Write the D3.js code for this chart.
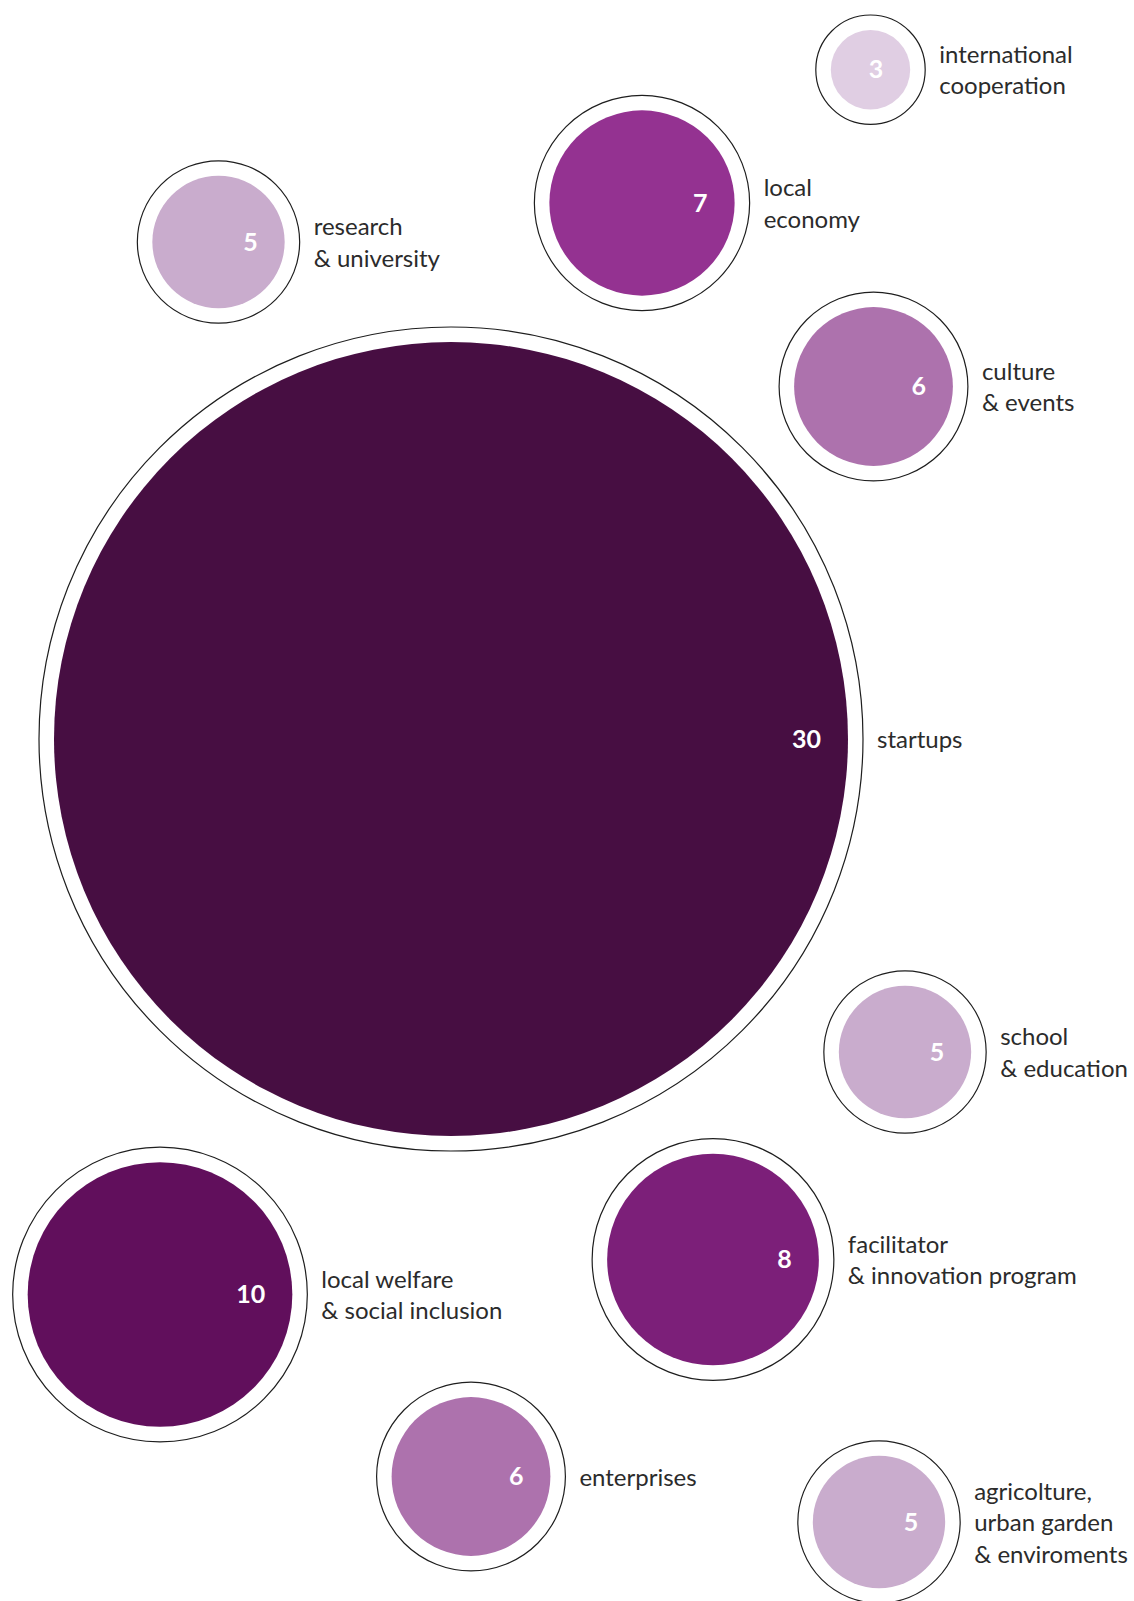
<!DOCTYPE html>
<html>
<head>
<meta charset="utf-8">
<script src="https://cdn.jsdelivr.net/npm/d3@7"></script>
<style>
  html, body { margin: 0; padding: 0; background: #ffffff; }
  svg { display: block; }
</style>
</head>
<body>
<svg id="chart" width="1134" height="1601"></svg>
<script>
// Sectors and number of initiatives in each
const categories = [
  "international cooperation",
  "local economy",
  "research & university",
  "culture & events",
  "startups",
  "school & education",
  "facilitator & innovation program",
  "local welfare & social inclusion",
  "enterprises",
  "agricolture, urban garden & enviroments"
];
const values = [3, 7, 5, 6, 30, 5, 8, 10, 6, 5];

// Label text broken into lines
const labelLines = [
  ["international", "cooperation"],
  ["local", "economy"],
  ["research", "& university"],
  ["culture", "& events"],
  ["startups"],
  ["school", "& education"],
  ["facilitator", "& innovation program"],
  ["local welfare", "& social inclusion"],
  ["enterprises"],
  ["agricolture,", "urban garden", "& enviroments"]
];

// Bubble centres (layout)
const centers = [
  [870.5, 69.7],
  [642, 203],
  [218.5, 242],
  [873.5, 386.5],
  [451, 739],
  [905, 1052],
  [713, 1259.5],
  [160, 1294.5],
  [471, 1476.5],
  [879, 1522]
];

// Fill colour ramp by count
const colorDomain = [3, 5, 6, 7, 8, 10, 30];
const colorRange = ["#e0cee3", "#c9accd", "#ad72ad", "#943291", "#7c1f79", "#610f5c", "#470e42"];

const svg = d3.select("#chart");

const rScale = d3.scaleLinear().domain([0, 30]).range([0, 397]);
const color = d3.scaleOrdinal().domain(colorDomain).range(colorRange);
const ringGap = 15;
const lineHeight = 31.5;

const data = categories.map((c, i) => ({
  name: c,
  value: values[i],
  lines: labelLines[i],
  x: centers[i][0],
  y: centers[i][1]
}));

const g = svg.selectAll("g.bubble")
  .data(data)
  .join("g")
  .attr("class", "bubble")
  .attr("transform", d => `translate(${d.x},${d.y})`);

// outer ring
g.append("circle")
  .attr("r", d => rScale(d.value) + ringGap)
  .attr("fill", "none")
  .attr("stroke", "#1e1e1e")
  .attr("stroke-width", 1.2);

// filled disc
g.append("circle")
  .attr("r", d => rScale(d.value))
  .attr("fill", d => color(d.value));

// count inside the disc
g.append("text")
  .attr("x", d => rScale(d.value) - 27)
  .attr("y", 8.5)
  .attr("text-anchor", "end")
  .attr("font-family", "Lato, 'Open Sans', sans-serif")
  .attr("font-weight", 700)
  .attr("font-size", 25)
  .attr("fill", "#ffffff")
  .text(d => d.value);

// category label to the right of the ring
const label = g.append("text")
  .attr("font-family", "Lato, 'Open Sans', sans-serif")
  .attr("font-size", 24)
  .attr("fill", "#2b2b2b");

label.selectAll("tspan")
  .data(d => d.lines.map((t, i) => ({ t, i, n: d.lines.length, r: rScale(d.value) })))
  .join("tspan")
  .attr("x", d => d.r + ringGap + 14)
  .attr("y", d => 9 - (d.n - 1) * lineHeight / 2 + d.i * lineHeight)
  .text(d => d.t);
</script>
</body>
</html>
